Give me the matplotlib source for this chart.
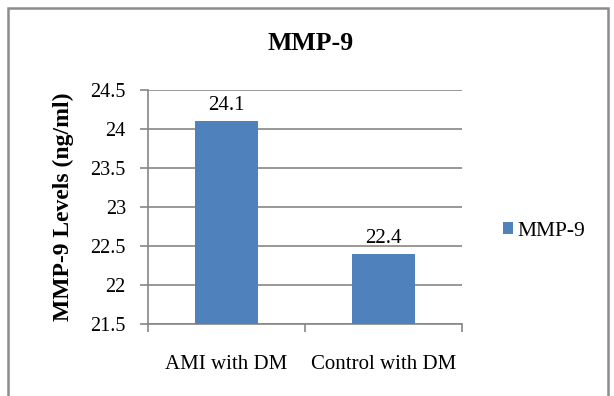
import numpy as np
from matplotlib import pyplot as plt
from matplotlib.patches import Rectangle

plt.rcParams["font.family"] = ["Liberation Serif", "DejaVu Serif"]

categories = ["AMI with DM", "Control with DM"]
values = [24.1, 22.4]
series_name = "MMP-9"
yticks = [21.5, 22, 22.5, 23, 23.5, 24, 24.5]
ytick_labels = ["21.5", "22", "22.5", "23", "23.5", "24", "24.5"]

bar_color = "#4f81bd"
grid_color = "#868686"

fig = plt.figure(figsize=(6.14, 3.96), dpi=100)
ax = fig.add_axes([148/614, 1 - 324/396, (462 - 148)/614, (324 - 90)/396])

x = np.arange(len(categories))
bars = ax.bar(x, values, width=0.4, color=bar_color, label=series_name, zorder=3)
for xi, v in zip(x, values):
    ax.text(xi, v + 0.08, f"{v}", ha="center", va="bottom", fontsize=15)

ax.set_xlim(-0.5, len(categories) - 0.5)
ax.set_ylim(21.5, 24.5)
ax.set_yticks(yticks)
ax.set_yticklabels(ytick_labels, fontsize=14.5)
ax.set_xticks([-0.5, 0.5, 1.5], minor=False)
ax.set_xticklabels([])
ax.set_xticks(x, minor=True)
ax.set_xticklabels(categories, minor=True, fontsize=15)
ax.tick_params(axis="x", which="minor", length=0, pad=22)
ax.tick_params(axis="x", which="major", length=6, color=grid_color, width=1.2)
ax.tick_params(axis="y", length=6, color=grid_color, width=1.2, pad=10)

ax.grid(axis="y", color=grid_color, linewidth=1.2, zorder=0)
for s in ["top", "right"]:
    ax.spines[s].set_visible(False)
for s in ["left", "bottom"]:
    ax.spines[s].set_color(grid_color)
    ax.spines[s].set_linewidth(1.2)

ax.set_ylabel("MMP-9 Levels (ng/ml)", fontsize=17, fontweight="bold", labelpad=12)

fig.text(311/614, 1 - 44/396, "MMP-9", ha="center", va="center",
         fontsize=18.5, fontweight="bold")

fig.legend(handles=[bars], labels=[series_name], loc="center left",
           bbox_to_anchor=(503/614, 1 - 231/396), frameon=False,
           borderpad=0, borderaxespad=0,
           fontsize=15.5, handlelength=0.48, handleheight=0.48, handletextpad=0.2)

fig.patches.append(Rectangle((8/614, -0.01), 600/614, 1 - 8/396 + 0.01,
                             transform=fig.transFigure, fill=False,
                             edgecolor="#8c8c8c", linewidth=1.8))

fig.savefig("out.png", dpi=100)
